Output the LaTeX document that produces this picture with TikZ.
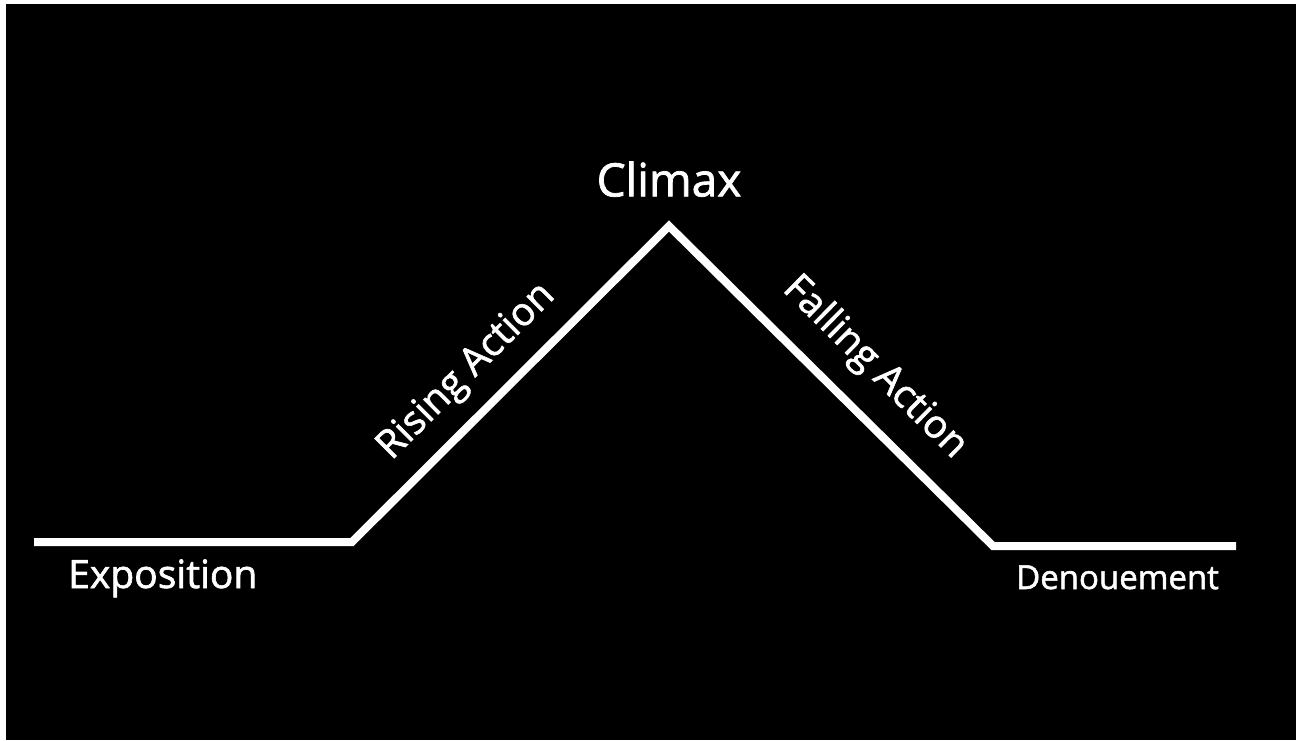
\documentclass[tikz,border=0pt]{standalone}
\usepackage{fontspec}
\setmainfont{Open Sans}
\newfontfamily\labelfont{Open Sans}[FakeBold=1.6]
\usetikzlibrary{positioning}

\begin{document}
\begin{tikzpicture}[
    x=1pt, y=-1pt,
    plotline/.style={draw=white, line width=8pt, line join=miter},
    lbl/.style={text=white, inner sep=0pt},
    biglbl/.style={lbl, font=\labelfont\fontsize{46}{52}\selectfont},
    midlbl/.style={lbl, font=\labelfont\fontsize{39}{44}\selectfont},
    smalllbl/.style={lbl, font=\labelfont\fontsize{33}{38}\selectfont}
]
% Frame
\fill[white] (0,0) rectangle (1296,740);
\fill[black] (6,4) rectangle (1296,740);
\useasboundingbox (0,0) rectangle (1296,740);

% Plot points
\coordinate (start) at (34,542);
\coordinate (rise) at (352,542);
\coordinate (peak) at (669,226);
\coordinate (fall) at (993,546);
\coordinate (end) at (1236,546);

% Plot line
\draw[plotline] (start) -- (rise) -- (peak) -- (fall) -- (end);

% Labels
\node[biglbl, anchor=base, above=29pt of peak] (climax) {Climax};
\node[midlbl, anchor=base west] (expo) at (68,588) {Exposition};
\node[smalllbl, anchor=base west] (denou) at (1016,589) {Denouement};
\path (rise) -- (peak) node[midlbl, sloped, pos=0.45, above=20pt] (risingact) {Rising Action};
\path (peak) -- (fall) node[midlbl, sloped, pos=0.54, above=24pt] (fallingact) {Falling Action};

\end{tikzpicture}
\end{document}
